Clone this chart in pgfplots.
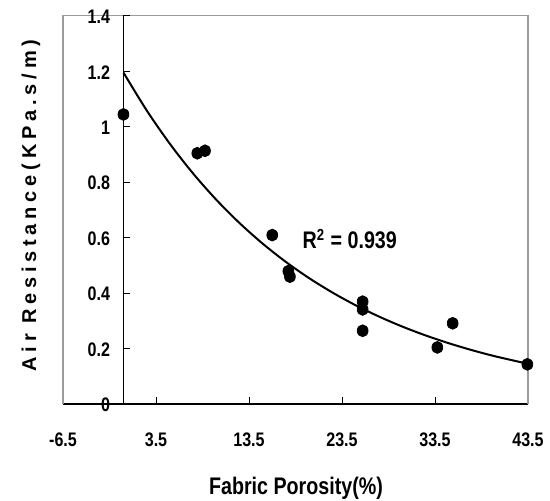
\documentclass[border=0pt]{standalone}
\usepackage{pgfplots}
\pgfplotsset{compat=1.18}
\usepackage{fontspec}
\setmainfont{Liberation Sans}
\newfontfamily\narrowfont[FakeStretch=0.82]{Liberation Sans}
\definecolor{framegray}{RGB}{155,155,155}
\begin{document}
\begin{tikzpicture}
\begin{axis}[
  scale only axis, width=232.5pt, height=194.15pt,
  at={(0pt,0pt)}, anchor=south west,
  xmin=-6.5, xmax=43.5, ymin=0, ymax=1.4,
  axis x line=bottom, axis y line=none,
  axis line style={-, line width=0.6pt, black},
  xtick={-6.5,3.5,13.5,23.5,33.5,43.5},
  xticklabels={-6.5,3.5,13.5,23.5,33.5,43.5},
  tick align=inside, major tick length=3.5pt,
  tick style={black, line width=0.5pt},
  minor tick num=0,
  /pgf/number format/assume math mode=true,
  ticklabel style={font=\narrowfont\bfseries\fontsize{9.8}{10}\selectfont, inner sep=0pt},
  xticklabel style={anchor=base, yshift=-21.35pt},
  xlabel={Fabric Porosity(\%)},
  xlabel style={at={(rel axis cs:0.501,-0.2326)}, anchor=base, inner sep=0pt,
    font=\narrowfont\bfseries\fontsize{12}{14}\selectfont},
  clip=false,
]
\draw[framegray, line width=0.6pt] (rel axis cs:0,0) |- (rel axis cs:1,1) -- (rel axis cs:1,0);
\addplot[black, line width=1pt, smooth, no marks] coordinates {
(0,1.195) (2.5,1.0585) (5,0.9377) (7.5,0.8306) (10,0.7358) (12.5,0.6518)
(15,0.5773) (17.5,0.5114) (20,0.4530) (22.5,0.4013) (25,0.3554) (27.5,0.3149)
(30,0.2789) (32.5,0.2471) (35,0.2189) (37.5,0.1939) (40,0.1717) (43.5,0.1449)
};
\addplot[only marks, mark=*, mark size=2.7pt, mark options={fill=black, draw=black, yscale=1.1}] coordinates {
(0,1.044) (7.94,0.904) (8.77,0.913) (16.0,0.609) (17.73,0.479) (17.9,0.459)
(25.72,0.369) (25.72,0.341) (25.72,0.264) (33.75,0.204) (35.4,0.291) (43.43,0.143)
};
\node[anchor=base west, inner sep=0pt, font=\narrowfont\bfseries\fontsize{12}{14}\selectfont]
  at (axis cs:19.23,0.559) {R\textsuperscript{2} = 0.939};
\end{axis}
\begin{axis}[
  scale only axis, width=202.29pt, height=194.15pt,
  at={(30.225pt,0pt)}, anchor=south west,
  xmin=0, xmax=43.5, ymin=0, ymax=1.4,
  axis y line=left, axis x line=none,
  axis line style={-, line width=0.6pt, black},
  ytick={0,0.2,0.4,0.6,0.8,1,1.2,1.4},
  yticklabels={0,0.2,0.4,0.6,0.8,1,1.2,1.4},
  tick align=inside, major tick length=3.5pt,
  tick style={black, line width=0.5pt},
  minor tick num=0,
  /pgf/number format/assume math mode=true,
  ticklabel style={font=\narrowfont\bfseries\fontsize{9.8}{10}\selectfont, inner sep=0pt},
  yticklabel style={anchor=east, xshift=-6.5pt, yshift=-0.5pt},
  ylabel={Air Resistance(KPa.s/m)},
  ylabel style={at={(rel axis cs:-0.216,0.511)}, anchor=base, inner sep=0pt,
    font=\bfseries\fontsize{10}{12}\selectfont\addfontfeature{LetterSpace=24}},
  clip=false,
]
\end{axis}
\pgfresetboundingbox
\path[use as bounding box] (-31.5pt,-48.5pt) rectangle (243.5pt,202pt);
\end{tikzpicture}
\end{document}
